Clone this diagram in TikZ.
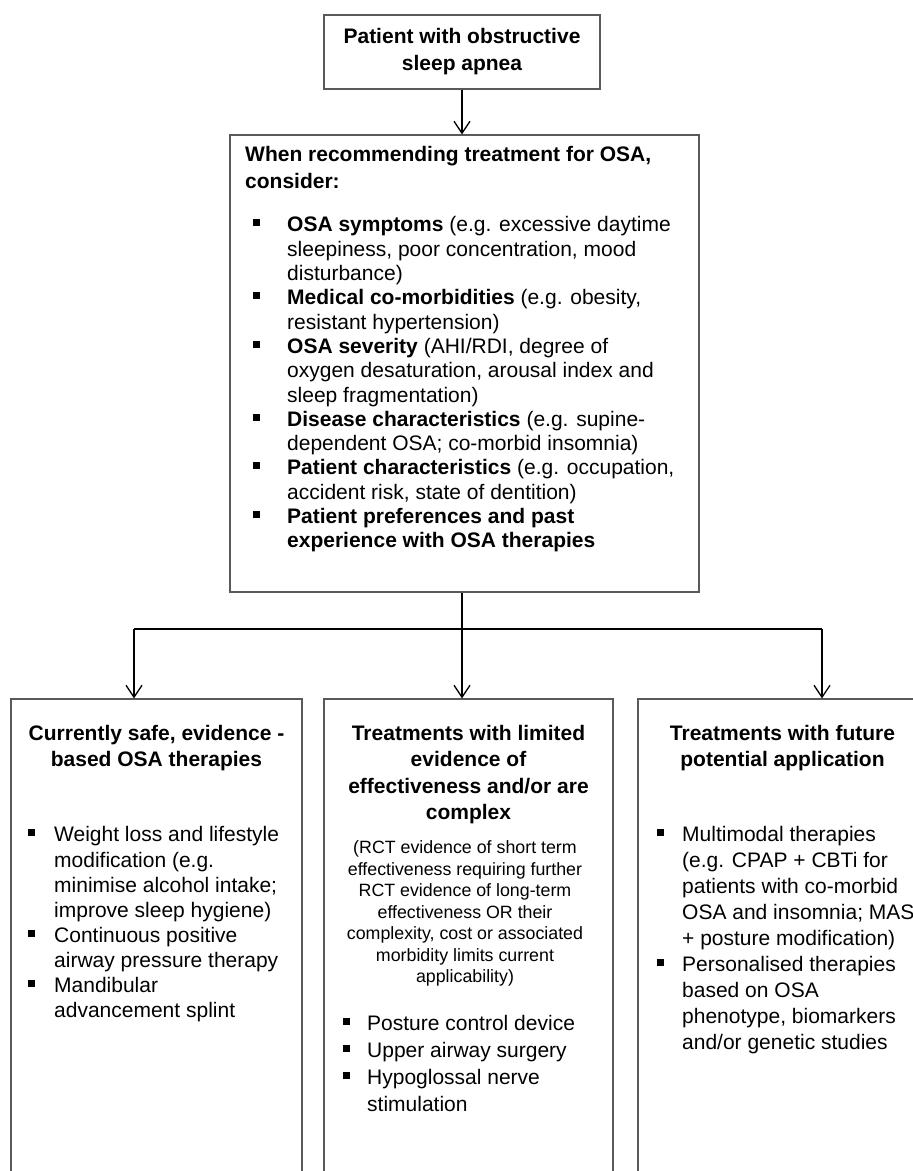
\documentclass[tikz,border=0pt]{standalone}
\usepackage{fontspec}
\setmainfont{Liberation Sans}
\usetikzlibrary{arrows.meta}
\newcommand{\bsq}{\raisebox{5.5pt}{\rule{7pt}{7pt}}}
\newcommand{\itm}[1]{\makebox[#1][l]{\bsq}}
\newcommand{\ind}[1]{\makebox[#1]{}}
\begin{document}
\begin{tikzpicture}[x=1pt,y=-1pt,
  box/.style={draw=black!65, line width=1.1pt, inner sep=0pt, rectangle},
  conn/.style={line width=1.4pt, draw=black},
  arr/.style={conn, -{Straight Barb[length=12pt,width=16pt,line width=1.3pt]}},
  txt/.style={inner sep=0pt, align=left, anchor=north west},
  ctxt/.style={inner sep=0pt, align=center, anchor=north},
  hfont/.style={font=\bfseries\fontsize{21}{26.3}\selectfont},
  lfont/.style={font=\fontsize{21}{#1}\selectfont}
]
\useasboundingbox (0,0) rectangle (913,1171);
\fill[white] (0,0) rectangle (913,1171);
\clip (0,0) rectangle (913,1171);

% boxes
\node[box, minimum width=276pt, minimum height=74pt, align=center,
      font=\bfseries\fontsize{21}{27}\selectfont] (top) at (462,52)
      {Patient with obstructive\\sleep apnea};
\node[box, minimum width=469pt, minimum height=457pt] (cons) at (464.5,363.5) {};
\node[box, minimum width=291pt, minimum height=520pt] (left) at (156.5,959) {};
\node[box, minimum width=289pt, minimum height=520pt] (mid) at (468.5,959) {};
\node[box, minimum width=289pt, minimum height=520pt] (right) at (782.5,959) {};

% connectors
\coordinate (split) at (462,629);
\coordinate (sl) at (134,629);
\coordinate (sr) at (822,629);
\draw[arr] (top.south) -- (top.south |- cons.north);
\draw[conn] (split |- cons.south) -- (split);
\draw[conn] (sl) -- (sr);
\draw[arr] (sl) -- (sl |- left.north);
\draw[arr] (split) -- (split |- mid.north);
\draw[arr] (sr) -- (sr |- right.north);

% considerations box
\node[txt, font=\bfseries\fontsize{21}{27}\selectfont] (conshead) at (245,146.5)
  {When recommending treatment for OSA,\\consider:};
\node[txt, lfont=24.3] (conslist) at (253,216.5) {%
\itm{34pt}\textbf{OSA symptoms} (e.g. excessive daytime\\
\ind{34pt}sleepiness, poor concentration, mood\\
\ind{34pt}disturbance)\\
\itm{34pt}\textbf{Medical co-morbidities} (e.g. obesity,\\
\ind{34pt}resistant hypertension)\\
\itm{34pt}\textbf{OSA severity} (AHI/RDI, degree of\\
\ind{34pt}oxygen desaturation, arousal index and\\
\ind{34pt}sleep fragmentation)\\
\itm{34pt}\textbf{Disease characteristics} (e.g. supine-\\
\ind{34pt}dependent OSA; co-morbid insomnia)\\
\itm{34pt}\textbf{Patient characteristics} (e.g. occupation,\\
\ind{34pt}accident risk, state of dentition)\\
\itm{34pt}\textbf{Patient preferences and past}\\
\ind{34pt}\textbf{experience with OSA therapies}};

% left column
\node[ctxt, hfont] (lhead) at (156.5,725)
  {Currently safe, evidence -\\based OSA therapies};
\node[txt, lfont=25.1] (llist) at (28,826.5) {%
\itm{26pt}Weight loss and lifestyle\\
\ind{26pt}modification (e.g.\\
\ind{26pt}minimise alcohol intake;\\
\ind{26pt}improve sleep hygiene)\\
\itm{26pt}Continuous positive\\
\ind{26pt}airway pressure therapy\\
\itm{26pt}Mandibular\\
\ind{26pt}advancement splint};

% middle column
\node[ctxt, hfont] (mhead) at (468.5,725)
  {Treatments with limited\\evidence of\\effectiveness and/or are\\complex};
\node[ctxt, font=\fontsize{17.8}{21.5}\selectfont] (mnote) at (465,840.7)
  {(RCT evidence of short term\\effectiveness requiring further\\RCT evidence of long-term\\effectiveness OR their\\complexity, cost or associated\\morbidity limits current\\applicability)};
\node[txt, lfont=26.7] (mlist) at (343,1015.5) {%
\itm{24pt}Posture control device\\
\itm{24pt}Upper airway surgery\\
\itm{24pt}Hypoglossal nerve\\
\ind{24pt}stimulation};

% right column
\node[ctxt, hfont] (rhead) at (782.5,725)
  {Treatments with future\\potential application};
\node[txt, lfont=26] (rlist) at (657,826.5) {%
\itm{25pt}Multimodal therapies\\
\ind{25pt}(e.g. CPAP + CBTi for\\
\ind{25pt}patients with co-morbid\\
\ind{25pt}OSA and insomnia; MAS\\
\ind{25pt}+ posture modification)\\
\itm{25pt}Personalised therapies\\
\ind{25pt}based on OSA\\
\ind{25pt}phenotype, biomarkers\\
\ind{25pt}and/or genetic studies};
\end{tikzpicture}
\end{document}
